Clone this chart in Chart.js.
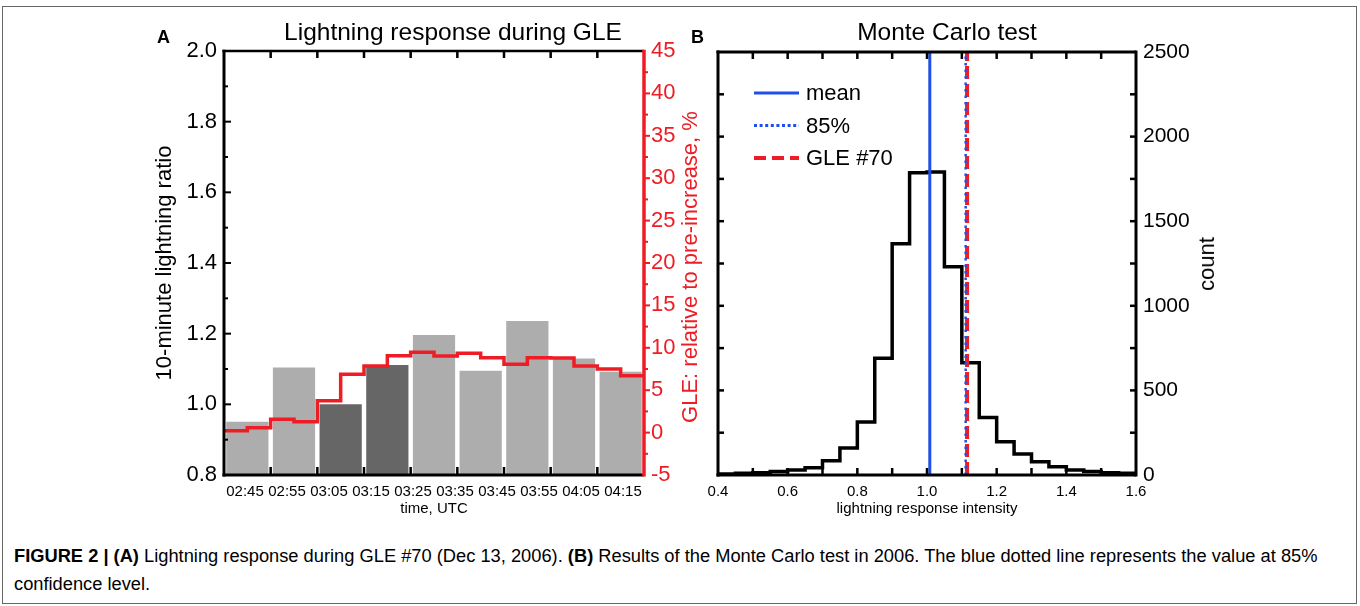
<!DOCTYPE html>
<html>
<head>
<meta charset="utf-8">
<script src="https://cdn.jsdelivr.net/npm/chart.js@4.4.1/dist/chart.umd.min.js"></script>
<style>
html,body{margin:0;padding:0;background:#fff;}
body{width:1360px;height:606px;position:relative;overflow:hidden;font-family:"Liberation Sans",Arial,Helvetica,sans-serif;color:#000;}
.abs{position:absolute;white-space:nowrap;}
#frame{position:absolute;left:2px;top:6px;width:1355px;height:598px;border:1px solid #666;box-sizing:border-box;}
.ptitle{font-size:24.5px;line-height:24px;text-align:center;width:600px;}
.plabel{font-size:18px;line-height:18px;font-weight:bold;}
.rot{font-size:22px;line-height:22px;transform:translate(-50%,-50%) rotate(-90deg);}
#caption{left:14px;top:542px;width:1332px;white-space:normal;font-size:18.3px;line-height:28px;}
</style>
</head>
<body>
<div id="frame"></div>
<div class="abs" style="left:140px;top:0;width:560px;height:520px"><canvas id="chartA" width="560" height="520"></canvas></div>
<div class="abs" style="left:690px;top:0;width:670px;height:520px"><canvas id="chartB" width="670" height="520"></canvas></div>

<div class="abs plabel" style="left:157px;top:28px">A</div>
<div class="abs ptitle" style="left:153px;top:20px">Lightning response during GLE</div>
<div class="abs rot" style="left:690px;top:267px;color:#ee1c24">GLE: relative to pre-increase, %</div>

<div class="abs plabel" style="left:691px;top:28px">B</div>
<div class="abs ptitle" style="left:647px;top:20px">Monte Carlo test</div>
<div class="abs rot" style="left:1207px;top:264px">count</div>

<div class="abs" id="caption"><b>FIGURE 2 | (A)</b> Lightning response during GLE #70 (Dec 13, 2006). <b>(B)</b> Results of the Monte Carlo test in 2006. The blue dotted line represents the value at 85% confidence level.</div>

<script>
// ---------------- data: panel A ----------------
const timeLabels = ['02:45','02:55','03:05','03:15','03:25','03:35','03:45','03:55','04:05','04:15'];
const lightningRatio = [0.951, 1.104, 1.000, 1.111, 1.196, 1.095, 1.236, 1.130, 1.092];
const highlightedIntervals = ['03:05', '03:15'];
// GLE increase (%) in 5-minute steps starting 02:45
const gleMinutes = [0, 5, 10, 15, 20, 25, 30, 35, 40, 45, 50, 55, 60, 65, 70, 75, 80, 85, 90];
const gleIncrease = [0.22, 0.58, 1.57, 1.29, 3.77, 6.87, 7.85, 9.07, 9.47, 9.03, 9.35, 8.83, 8.05, 8.83, 8.80, 7.85, 7.50, 6.71];

// ---------------- data: panel B ----------------
const binEdges = [0.40,0.45,0.50,0.55,0.60,0.65,0.70,0.75,0.80,0.85,0.90,0.95,1.00,1.05,1.10,1.15,1.20,1.25,1.30,1.35,1.40,1.45,1.50,1.55,1.60];
const histCounts = [6, 10, 14, 20, 30, 43, 84, 160, 313, 690, 1366, 1786, 1791, 1231, 663, 340, 197, 124, 79, 49, 30, 20, 14, 10];
const meanValue = 1.008;
const conf85Value = 1.111;
const gle70Value = 1.115;
const countMax = 2500;

// ---------------- styles ----------------
const RED = '#ee1c24';
const BLUE = '#1f4fe8';
const LIGHT = '#adadad';
const DARK = '#666666';
const FONT = "'Liberation Sans', Arial, Helvetica, sans-serif";
Chart.defaults.font.family = FONT;
Chart.defaults.color = '#000';

// plugin: plot box edges and tick marks
const boxPlugin = {
  id: 'box',
  afterDatasetsDraw(chart, _args, o) {
    const ctx = chart.ctx, a = chart.chartArea;
    ctx.save();
    ctx.lineCap = 'butt';
    for (const t of (o.ticks || [])) {
      const sc = chart.scales[t.scale];
      ctx.strokeStyle = t.color; ctx.lineWidth = t.width;
      for (const tk of sc.ticks) {
        const v = tk.value;
        if (Math.abs(v - sc.min) < 1e-9 || Math.abs(v - sc.max) < 1e-9) continue;
        const p = sc.getPixelForValue(v);
        const len = (tk.label !== '' ? t.major : t.minor) * (t.out ? -1 : 1);
        ctx.beginPath();
        if (t.side === 'bottom') { ctx.moveTo(p, a.bottom); ctx.lineTo(p, a.bottom - len); }
        else if (t.side === 'top') { ctx.moveTo(p, a.top); ctx.lineTo(p, a.top + len); }
        else if (t.side === 'left') { ctx.moveTo(a.left, p); ctx.lineTo(a.left + len, p); }
        else { ctx.moveTo(a.right, p); ctx.lineTo(a.right - len, p); }
        ctx.stroke();
      }
    }
    const s = o.sides;
    const seg = (x1, y1, x2, y2, c, w) => { ctx.strokeStyle = c; ctx.lineWidth = w; ctx.beginPath(); ctx.moveTo(x1, y1); ctx.lineTo(x2, y2); ctx.stroke(); };
    seg(a.left - s.left.w / 2, a.top, a.right, a.top, s.top.c, s.top.w);
    seg(a.left - s.left.w / 2, a.bottom, a.right, a.bottom, s.bottom.c, s.bottom.w);
    seg(a.left, a.top - s.top.w / 2, a.left, a.bottom + s.bottom.w / 2, s.left.c, s.left.w);
    seg(a.right, a.top - s.top.w / 2, a.right, a.bottom + s.bottom.w / 2, s.right.c, s.right.w);
    ctx.restore();
  }
};

// plugin: legend inside plot area
const insideLegend = {
  id: 'insideLegend',
  afterDatasetsDraw(chart, _args, o) {
    if (!o.items) return;
    const ctx = chart.ctx;
    o.items.forEach((it, k) => {
      const ds = chart.data.datasets[it.index];
      const y = o.y0 + k * o.dy;
      ctx.save();
      ctx.strokeStyle = ds.borderColor; ctx.lineWidth = it.width || ds.borderWidth;
      ctx.setLineDash(it.dash || []);
      ctx.beginPath(); ctx.moveTo(o.x0, y); ctx.lineTo(o.x1, y); ctx.stroke();
      ctx.setLineDash([]);
      ctx.fillStyle = '#000'; ctx.font = o.font; ctx.textBaseline = 'middle'; ctx.textAlign = 'left';
      ctx.fillText(ds.label, o.tx, y + 1);
      ctx.restore();
    });
  }
};

const hiddenGrid = { display: false, drawTicks: false };
const noBorder = { display: false };

// ---------------- chart A ----------------
new Chart(document.getElementById('chartA'), {
  type: 'bar',
  data: {
    labels: timeLabels.slice(0, lightningRatio.length),
    datasets: [
      {
        type: 'line', label: 'GLE',
        data: gleMinutes.map((m, i) => ({ x: m, y: gleIncrease[Math.min(i, gleIncrease.length - 1)] })),
        xAxisID: 'xl', yAxisID: 'y2',
        borderColor: RED, borderWidth: 3.5, stepped: 'before', pointRadius: 0, fill: false
      },
      {
        type: 'bar', label: 'ratio',
        data: lightningRatio,
        xAxisID: 'x', yAxisID: 'y',
        backgroundColor: (c) => highlightedIntervals.includes(timeLabels[c.dataIndex]) ? DARK : LIGHT,
        grouped: false, barPercentage: 0.905, categoryPercentage: 1.0, borderWidth: 0
      }
    ]
  },
  options: {
    responsive: false, animation: false,
    layout: { padding: { top: 51, left: 0, right: 0, bottom: 0 } },
    plugins: {
      legend: { display: false }, tooltip: { enabled: false },
      box: {
        sides: { left: { c: '#000', w: 3 }, top: { c: '#000', w: 2.5 }, bottom: { c: '#000', w: 3 }, right: { c: RED, w: 3.5 } },
        ticks: [
          { scale: 'xl', side: 'bottom', color: '#000', width: 2.5, major: 8, minor: 8 },
          { scale: 'xl', side: 'top', color: '#000', width: 2.5, major: 7, minor: 7 },
          { scale: 'y', side: 'left', color: '#000', width: 2, major: 7, minor: 4 },
          { scale: 'y2', side: 'right', color: RED, width: 2, major: 6, minor: 4, out: true }
        ]
      }
    },
    scales: {
      x: { type: 'category', display: false, offset: true, grid: hiddenGrid },
      xl: { type: 'linear', display: false, offset: false, min: 0, max: 90, ticks: { stepSize: 10 }, grid: { display: false, drawTicks: false, offset: false } },
      xt: {
        type: 'category', position: 'bottom', labels: timeLabels, offset: true,
        grid: hiddenGrid, border: noBorder,
        ticks: { font: { size: 15 }, padding: 8, autoSkip: false, maxRotation: 0, minRotation: 0 },
        title: { display: true, text: 'time, UTC', font: { size: 15 }, padding: { top: 0, bottom: 2 } },
        afterFit: (s) => { s.height = 45; }
      },
      y: {
        type: 'linear', position: 'left', min: 0.8, max: 2.0,
        grid: hiddenGrid, border: noBorder,
        ticks: { stepSize: 0.1, font: { size: 22 }, padding: 7, autoSkip: false,
                 callback: (v) => (Math.round(v * 10) % 2 === 0 ? Number(v).toFixed(1) : '') },
        title: { display: true, text: '10-minute lightning ratio', font: { size: 22 }, padding: { top: 12, bottom: 0 } },
        afterFit: (s) => { s.width = 84; }
      },
      y2: {
        type: 'linear', position: 'right', min: -5, max: 45,
        grid: hiddenGrid, border: noBorder,
        ticks: { stepSize: 2.5, color: RED, font: { size: 22 }, padding: 7, autoSkip: false,
                 callback: (v) => (Math.abs(v % 5) < 1e-9 ? String(v) : '') },
        afterFit: (s) => { s.width = 56; }
      }
    }
  },
  plugins: [boxPlugin]
});

// ---------------- chart B ----------------
const vline = (v) => [{ x: v, y: 0 }, { x: v, y: countMax }];
new Chart(document.getElementById('chartB'), {
  type: 'line',
  data: {
    datasets: [
      { label: '85%', data: vline(conf85Value), borderColor: BLUE, borderWidth: 2.5, borderDash: [2.5, 4], pointRadius: 0 },
      { label: 'GLE #70', data: vline(gle70Value), borderColor: RED, borderWidth: 4, borderDash: [13, 5], pointRadius: 0 },
      { label: 'mean', data: vline(meanValue), borderColor: BLUE, borderWidth: 3, pointRadius: 0 },
      { label: 'count',
        data: binEdges.map((e, i) => ({ x: e, y: histCounts[Math.min(i, histCounts.length - 1)] })),
        borderColor: '#000', borderWidth: 3.5, stepped: 'before', pointRadius: 0 }
    ]
  },
  options: {
    responsive: false, animation: false,
    layout: { padding: { top: 52, left: 28, right: 135, bottom: 0 } },
    plugins: {
      legend: { display: false }, tooltip: { enabled: false },
      box: {
        sides: { left: { c: '#000', w: 3 }, top: { c: '#000', w: 3 }, bottom: { c: '#000', w: 3 }, right: { c: '#000', w: 3 } },
        ticks: [
          { scale: 'x', side: 'bottom', color: '#000', width: 2.5, major: 7, minor: 7 },
          { scale: 'x', side: 'top', color: '#000', width: 2.5, major: 7, minor: 7 },
          { scale: 'y', side: 'left', color: '#000', width: 2.5, major: 6, minor: 6 },
          { scale: 'y', side: 'right', color: '#000', width: 2.5, major: 6, minor: 6 }
        ]
      },
      insideLegend: {
        x0: 64, x1: 109, tx: 116, y0: 93, dy: 32.5, font: "22px " + FONT,
        items: [ { index: 2 }, { index: 0, dash: [3, 2.6], width: 3 }, { index: 1, dash: [12, 6], width: 4 } ]
      }
    },
    scales: {
      x: {
        type: 'linear', position: 'bottom', min: 0.4, max: 1.6,
        grid: hiddenGrid, border: noBorder,
        ticks: { stepSize: 0.1, font: { size: 15 }, padding: 8, autoSkip: false, maxRotation: 0,
                 callback: (v) => (Math.round(v * 10) % 2 === 0 ? Number(v).toFixed(1) : '') },
        title: { display: true, text: 'lightning response intensity', font: { size: 15 }, padding: { top: 0, bottom: 2 } },
        afterFit: (s) => { s.height = 45; }
      },
      y: {
        type: 'linear', position: 'right', min: 0, max: countMax,
        grid: hiddenGrid, border: noBorder,
        ticks: { stepSize: 250, font: { size: 21 }, padding: 7, autoSkip: false,
                 callback: (v) => (v % 500 === 0 ? String(v) : '') },
        afterFit: (s) => { s.width = 89; }
      }
    }
  },
  plugins: [boxPlugin, insideLegend]
});
</script>
</body>
</html>
